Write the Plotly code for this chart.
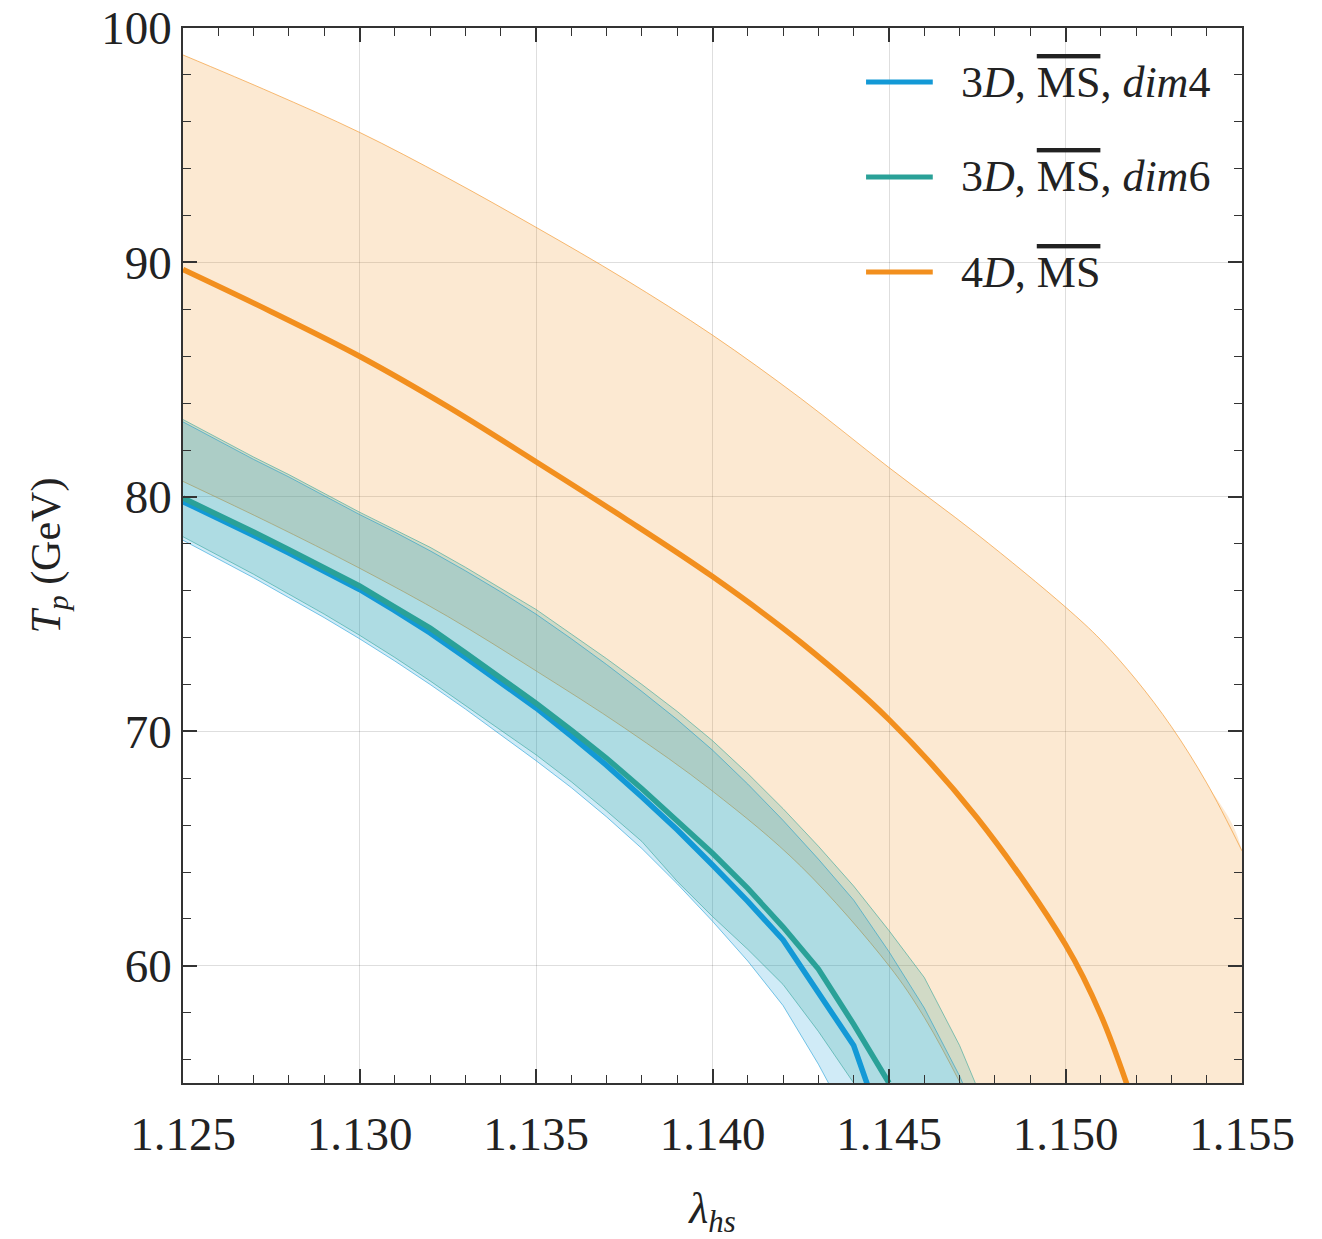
import plotly.graph_objects as go

# ---- 4D, MS-bar: central value and uncertainty band ----
lam_4d_mid = [1.125, 1.1275, 1.130, 1.1325, 1.135, 1.1375, 1.140, 1.1425, 1.145,
              1.1475, 1.150, 1.151, 1.152]
tp_4d_mid = [89.7, 87.9, 86.0, 83.85, 81.5, 79.1, 76.6, 73.8, 70.5,
             66.3, 60.9, 57.9, 53.8]

lam_4d_up = [1.125, 1.1275, 1.130, 1.1325, 1.135, 1.1375, 1.140, 1.1425, 1.145, 1.1475,
             1.150, 1.151, 1.152, 1.153, 1.154, 1.155]
tp_4d_up = [98.85, 97.25, 95.55, 93.6, 91.5, 89.3, 86.9, 84.2, 81.25, 78.4,
            75.3, 73.9, 72.2, 70.2, 67.8, 64.9]

lam_4d_lo = [1.125, 1.1275, 1.130, 1.1325, 1.135, 1.1375, 1.140, 1.1425, 1.145, 1.146, 1.147, 1.148]
tp_4d_lo = [80.66, 78.86, 76.96, 74.9, 72.58, 70.15, 67.45, 64.25, 60.0, 57.8, 55.05, 52.0]

# ---- 3D, MS-bar, dim4 ----
lam_d4_mid = [1.125, 1.126, 1.127, 1.128, 1.129, 1.130, 1.131, 1.132, 1.133, 1.134, 1.135,
              1.136, 1.137, 1.138, 1.139, 1.140, 1.141, 1.142, 1.143, 1.144, 1.145]
tp_d4_mid = [79.8, 79.1, 78.35, 77.6, 76.85, 76.05, 75.15, 74.2, 73.15, 72.1, 71.0,
             69.8, 68.55, 67.2, 65.8, 64.3, 62.75, 61.1, 58.9, 56.6, 52.3]

lam_d4_up = [1.125, 1.126, 1.127, 1.128, 1.129, 1.130, 1.131, 1.132, 1.133, 1.134, 1.135, 1.136,
             1.137, 1.138, 1.139, 1.140, 1.141, 1.142, 1.143, 1.144, 1.145, 1.146, 1.147, 1.148]
tp_d4_up = [83.2, 82.4, 81.6, 80.85, 80.05, 79.25, 78.5, 77.7, 76.85, 75.95, 75.0, 73.95,
            72.85, 71.7, 70.5, 69.2, 67.75, 66.2, 64.55, 62.8, 60.6, 58.2, 55.3, 51.8]

lam_d4_lo = [1.125, 1.126, 1.127, 1.128, 1.129, 1.130, 1.131, 1.132, 1.133, 1.134, 1.135,
             1.136, 1.137, 1.138, 1.139, 1.140, 1.141, 1.142, 1.143, 1.144]
tp_d4_lo = [78.15, 77.35, 76.55, 75.7, 74.85, 73.95, 73.0, 72.0, 70.95, 69.85, 68.75,
            67.6, 66.35, 65.0, 63.5, 61.9, 60.2, 58.3, 55.8, 53.0]

# ---- 3D, MS-bar, dim6 ----
lam_d6_mid = [1.125, 1.126, 1.127, 1.128, 1.129, 1.130, 1.131, 1.132, 1.133, 1.134, 1.135,
              1.136, 1.137, 1.138, 1.139, 1.140, 1.141, 1.142, 1.143, 1.144, 1.145]
tp_d6_mid = [79.95, 79.25, 78.5, 77.75, 77.0, 76.2, 75.3, 74.4, 73.35, 72.3, 71.2,
             70.05, 68.85, 67.55, 66.2, 64.8, 63.3, 61.65, 59.86, 57.5, 55.0]

lam_d6_up = [1.125, 1.126, 1.127, 1.128, 1.129, 1.130, 1.131, 1.132, 1.133, 1.134, 1.135, 1.136,
             1.137, 1.138, 1.139, 1.140, 1.141, 1.142, 1.143, 1.144, 1.145, 1.146, 1.147, 1.148]
tp_d6_up = [83.3, 82.5, 81.7, 80.95, 80.15, 79.35, 78.6, 77.85, 77.0, 76.1, 75.2, 74.15,
            73.1, 72.0, 70.85, 69.6, 68.2, 66.7, 65.1, 63.4, 61.5, 59.5, 56.6, 53.0]

lam_d6_lo = [1.125, 1.126, 1.127, 1.128, 1.129, 1.130, 1.131, 1.132, 1.133, 1.134, 1.135,
             1.136, 1.137, 1.138, 1.139, 1.140, 1.141, 1.142, 1.143, 1.144, 1.145]
tp_d6_lo = [78.3, 77.5, 76.7, 75.85, 75.0, 74.1, 73.15, 72.15, 71.1, 70.05, 69.0,
            67.85, 66.6, 65.3, 63.6, 62.1, 60.7, 59.2, 57.2, 55.0, 52.6]

# ---- axes ----
X_RANGE = [1.125, 1.155]
Y_RANGE = [55, 100]
x_ticks = [1.125, 1.130, 1.135, 1.140, 1.145, 1.150, 1.155]
x_tick_text = ["1.125", "1.130", "1.135", "1.140", "1.145", "1.150", "1.155"]
y_ticks = [60, 70, 80, 90, 100]
y_tick_text = ["60", "70", "80", "90", "100"]

# ---- styles ----
C_BLUE = "#1399d6"
C_TEAL = "#2aa198"
C_ORANGE = "#f28f1e"
FONT = "Liberation Serif, DejaVu Serif, serif"
OVERLINE_MS = "<span style='text-decoration:overline'>MS</span>"

legend_labels = [
    f"3<i>D</i>, {OVERLINE_MS}, <i>dim</i>4",
    f"3<i>D</i>, {OVERLINE_MS}, <i>dim</i>6",
    f"4<i>D</i>, {OVERLINE_MS}",
]
legend_colors = [C_BLUE, C_TEAL, C_ORANGE]


def rgba(hex_color, a):
    h = hex_color.lstrip("#")
    r, g, b = int(h[0:2], 16), int(h[2:4], 16), int(h[4:6], 16)
    return f"rgba({r},{g},{b},{a})"


fig = go.Figure()


def add_band(x_lo, y_lo, x_up, y_up, color, shape, edge_alpha=0.55):
    # closed region: upper edge, down the last upper x to below the axis floor,
    # then back along the lower edge (the part below the axis is clipped)
    below = Y_RANGE[0] - 5
    poly_x = list(x_up) + [x_up[-1]] + list(x_lo)[::-1]
    poly_y = list(y_up) + [below] + list(y_lo)[::-1]
    fig.add_trace(go.Scatter(
        x=poly_x, y=poly_y, mode="lines", fill="toself",
        fillcolor=rgba(color, 0.2), line=dict(width=0, shape=shape),
        showlegend=False, hoverinfo="skip"))
    for xs, ys in ((x_lo, y_lo), (x_up, y_up)):
        fig.add_trace(go.Scatter(
            x=xs, y=ys, mode="lines",
            line=dict(color=rgba(color, edge_alpha), width=1, shape=shape),
            showlegend=False, hoverinfo="skip"))


# uncertainty bands
add_band(lam_4d_lo, tp_4d_lo, lam_4d_up, tp_4d_up, C_ORANGE, "spline", 0.6)
add_band(lam_d4_lo, tp_d4_lo, lam_d4_up, tp_d4_up, C_BLUE, "linear")
add_band(lam_d6_lo, tp_d6_lo, lam_d6_up, tp_d6_up, C_TEAL, "linear")

# central curves
fig.add_trace(go.Scatter(x=lam_4d_mid, y=tp_4d_mid, mode="lines",
                         line=dict(color=C_ORANGE, width=5.5, shape="spline"),
                         showlegend=False))
fig.add_trace(go.Scatter(x=lam_d4_mid, y=tp_d4_mid, mode="lines",
                         line=dict(color=C_BLUE, width=5.5), showlegend=False))
fig.add_trace(go.Scatter(x=lam_d6_mid, y=tp_d6_mid, mode="lines",
                         line=dict(color=C_TEAL, width=5.5), showlegend=False))

# legend drawn in paper coordinates
legend_y = [0.9488, 0.8588, 0.7687]
for label, color, ly in zip(legend_labels, legend_colors, legend_y):
    fig.add_shape(type="line", xref="paper", yref="paper",
                  x0=0.645, x1=0.708, y0=ly, y1=ly,
                  line=dict(color=color, width=5))
    fig.add_annotation(xref="paper", yref="paper", x=0.733, y=ly,
                       xanchor="left", yanchor="middle", showarrow=False,
                       text=label, font=dict(family=FONT, size=44, color="#222"))

axis_common = dict(
    showline=True, linecolor="#333", linewidth=1.6, mirror="ticks",
    ticks="inside", ticklen=14, tickwidth=1.6, tickcolor="#333",
    showgrid=True, gridcolor="rgba(0,0,0,0.13)", gridwidth=1,
    zeroline=False, automargin=False,
    tickfont=dict(family=FONT, size=47, color="#222"),
)

fig.update_xaxes(
    range=X_RANGE, tickmode="array", tickvals=x_ticks, ticktext=x_tick_text,
    ticklabelstandoff=9,
    minor=dict(dtick=0.001, tick0=1.125, ticks="inside", ticklen=8,
               tickwidth=1.4, tickcolor="#333", showgrid=False),
    title=dict(text="<i>λ</i><sub><i>hs</i></sub>",
               font=dict(family=FONT, size=44, color="#222"), standoff=42),
    **axis_common)

fig.update_yaxes(
    range=Y_RANGE, tickmode="array", tickvals=y_ticks, ticktext=y_tick_text,
    minor=dict(dtick=2, tick0=0, ticks="inside", ticklen=8,
               tickwidth=1.4, tickcolor="#333", showgrid=False),
    title=dict(text="<i>T</i><sub><i>p</i></sub> (GeV)",
               font=dict(family=FONT, size=42, color="#222"), standoff=28),
    **axis_common)

fig.update_layout(
    width=1322, height=1239, autosize=False,
    margin=dict(l=183, r=80, t=28, b=156, autoexpand=False),
    plot_bgcolor="white", paper_bgcolor="white",
    showlegend=False,
)

fig.write_html("out.html")
